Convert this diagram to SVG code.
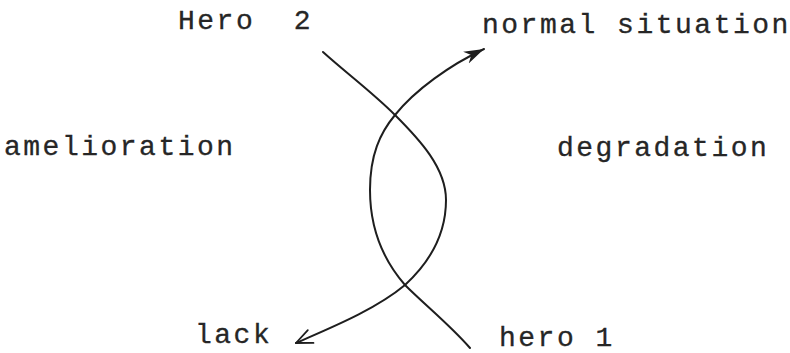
<svg xmlns="http://www.w3.org/2000/svg" width="790" height="353" viewBox="0 0 790 353">
<style>
.t{font-family:"Liberation Mono","Courier New",monospace;font-size:28px;letter-spacing:2.5px;fill:#262626;stroke:#262626;stroke-width:0.3}
.c{fill:none;stroke:#1e1e1e;stroke-width:2;stroke-linecap:round}
</style>
<defs>
<marker id="open" markerUnits="userSpaceOnUse" viewBox="0 0 20 20" markerWidth="20" markerHeight="20" refX="18" refY="10" orient="auto">
<path d="M2,3 L18,10 L2,17" fill="none" stroke="#1e1e1e" stroke-width="1.8" stroke-linecap="round" stroke-linejoin="round"/>
</marker>
<marker id="fill" markerUnits="userSpaceOnUse" viewBox="0 0 22 20" markerWidth="22" markerHeight="20" refX="20" refY="10" orient="auto">
<path d="M0,3.5 L20,10 L0,16.5 L6,10 z" fill="#1e1e1e"/>
</marker>
</defs>
<rect width="790" height="353" fill="#ffffff"/>
<g id="connectors">
<path class="c" d="M323,52 C345,72 372,92 395,115 C420,140 446,168 446,200 C446,235 430,262 405,285 C375,310 330,328 296,343" marker-end="url(#open)"/>
<path class="c" d="M470,348 C450,325 425,305 405,285 C385,262 370,230 370,190 C370,155 380,133 395,115 C415,90 450,65 484,49" marker-end="url(#fill)"/>
</g>
<g id="hero2"><text class="t" x="178" y="29" xml:space="preserve">Hero  2</text></g>
<g id="normal-situation"><text class="t" x="482" y="33">normal situation</text></g>
<g id="amelioration"><text class="t" x="4" y="155">amelioration</text></g>
<g id="degradation"><text class="t" x="557" y="156">degradation</text></g>
<g id="lack"><text class="t" x="195" y="343">lack</text></g>
<g id="hero1"><text class="t" x="499" y="346" xml:space="preserve">hero 1</text></g>
</svg>
